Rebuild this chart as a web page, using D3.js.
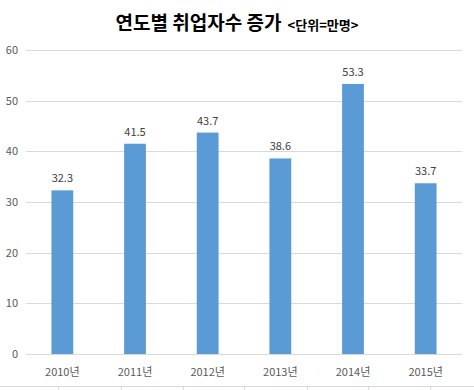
<!DOCTYPE html>
<html>
<head>
<meta charset="utf-8">
<script src="https://cdn.jsdelivr.net/npm/d3@7"></script>
<style>
  body { margin: 0; background: #fff; }
  svg { display: block; }
</style>
</head>
<body>
<svg id="chart"></svg>
<script>
// chart data
const years = ["2010년", "2011년", "2012년", "2013년", "2014년", "2015년"];
const values = [32.3, 41.5, 43.7, 38.6, 53.3, 33.7];
const yTicks = [0, 10, 20, 30, 40, 50, 60];

const width = 474;
const height = 390;
const marginTop = 50;
const marginRight = 12;
const marginBottom = 36;
const marginLeft = 26;

const svg = d3.select("#chart")
    .attr("width", width)
    .attr("height", height)
    .style("font-family", "'Noto Sans CJK KR', 'Malgun Gothic', sans-serif");

const x = d3.scaleBand()
    .domain(years)
    .range([marginLeft, width - marginRight])
    .paddingInner(0.7)
    .paddingOuter(0.35);

const y = d3.scaleLinear()
    .domain([0, 60])
    .range([height - marginBottom, marginTop]);

// spreadsheet cell borders behind the chart (bottom strip)
const cellX = [58, 121, 183, 244, 307, 368, 430];
const gCells = svg.append("g").attr("stroke", "#d9d9d9").attr("stroke-width", 1);
gCells.append("line").attr("x1", 0).attr("x2", width).attr("y1", 386.5).attr("y2", 386.5);
gCells.selectAll("line.v").data(cellX).join("line")
    .attr("class", "v")
    .attr("x1", d => d + 0.5).attr("x2", d => d + 0.5)
    .attr("y1", 386.5).attr("y2", height);

// gridlines
svg.append("g")
    .attr("stroke", "#d9d9d9")
    .attr("stroke-width", 1)
  .selectAll("line")
  .data(yTicks)
  .join("line")
    .attr("x1", marginLeft)
    .attr("x2", width - marginRight)
    .attr("y1", d => Math.round(y(d)) + 0.5)
    .attr("y2", d => Math.round(y(d)) + 0.5);

// y axis labels
svg.append("g")
    .attr("font-size", 11)
    .attr("fill", "#595959")
    .attr("text-anchor", "end")
  .selectAll("text")
  .data(yTicks)
  .join("text")
    .attr("x", marginLeft - 8)
    .attr("y", d => y(d))
    .attr("dy", "0.35em")
    .text(d => d);

// bars
svg.append("g")
    .attr("fill", "#5b9bd5")
  .selectAll("rect")
  .data(values)
  .join("rect")
    .attr("x", (d, i) => x(years[i]))
    .attr("y", d => y(d))
    .attr("width", x.bandwidth())
    .attr("height", d => y(0) - y(d));

// value labels
svg.append("g")
    .attr("font-size", 11)
    .attr("fill", "#404040")
    .attr("text-anchor", "middle")
  .selectAll("text")
  .data(values)
  .join("text")
    .attr("x", (d, i) => x(years[i]) + x.bandwidth() / 2)
    .attr("y", d => y(d) - 8)
    .text(d => d.toFixed(1));

// x axis labels
svg.append("g")
    .attr("font-size", 11)
    .attr("fill", "#595959")
    .attr("text-anchor", "middle")
  .selectAll("text")
  .data(years)
  .join("text")
    .attr("x", d => x(d) + x.bandwidth() / 2)
    .attr("y", y(0) + 22)
    .text(d => d);

// title
const title = svg.append("text")
    .attr("x", 237)
    .attr("y", 30)
    .attr("text-anchor", "middle")
    .attr("fill", "#000")
    .attr("font-weight", "bold");
title.append("tspan").attr("font-size", 19).text("연도별 취업자수 증가");
title.append("tspan").attr("font-size", 13).attr("dx", 6).text("<단위=만명>");
</script>
</body>
</html>
